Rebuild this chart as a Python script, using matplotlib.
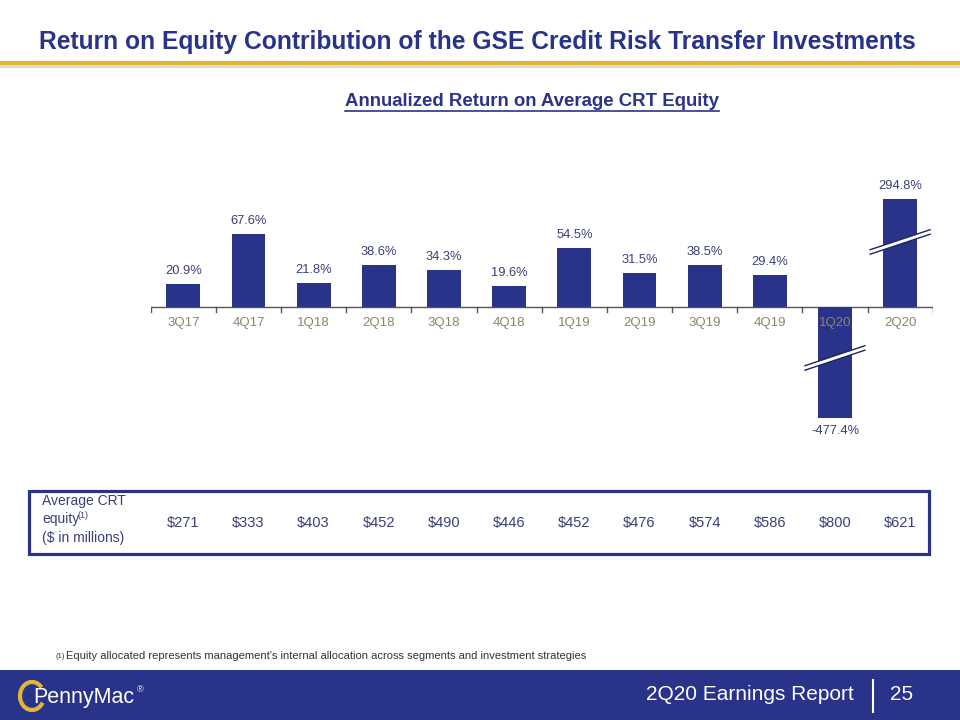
import numpy as np
import matplotlib
matplotlib.use("Agg")
import matplotlib.pyplot as plt
from matplotlib.patches import Rectangle, Polygon, Arc
from matplotlib import font_manager

quarters = ["3Q17", "4Q17", "1Q18", "2Q18", "3Q18", "4Q18", "1Q19", "2Q19", "3Q19", "4Q19", "1Q20", "2Q20"]
roe = [20.9, 67.6, 21.8, 38.6, 34.3, 19.6, 54.5, 31.5, 38.5, 29.4, -477.4, 294.8]
equity = [271, 333, 403, 452, 490, 446, 452, 476, 574, 586, 800, 621]

NAVY = "#29338a"
TXT = "#3b3f78"
TAN = "#8c8566"
GOLD = "#e0b634"

names = {f.name for f in font_manager.fontManager.ttflist}
narrow = "Liberation Sans Narrow" if "Liberation Sans Narrow" in names else "Liberation Sans"
plt.rcParams["font.family"] = ["Liberation Sans", "DejaVu Sans"]

W, H = 960, 720
fig = plt.figure(figsize=(9.6, 7.2), dpi=100)

def fx(x):
    return x / W

def fy(y):
    return 1 - y / H

# Title
fig.text(fx(477), fy(42), "Return on Equity Contribution of the GSE Credit Risk Transfer Investments",
         ha="center", va="center", fontsize=17.7, fontweight="bold", color=NAVY, family=narrow)
# gold rule with shadow
fig.add_artist(Rectangle((0, fy(68)), 1, 3 / H, transform=fig.transFigure, color="#d9d9d9", lw=0))
fig.add_artist(Rectangle((0, fy(65)), 1, 4 / H, transform=fig.transFigure, color=GOLD, lw=0))

# Subtitle underlined
st = fig.text(fx(532), fy(102), "Annualized Return on Average CRT Equity", ha="center", va="center",
              fontsize=13.4, fontweight="bold", color=NAVY, family=narrow)
fig.canvas.draw()
bb = st.get_window_extent()
fig.add_artist(plt.Line2D([bb.x0 / W, bb.x1 / W], [fy(111), fy(111)], transform=fig.transFigure,
                          color=NAVY, lw=1.2))

# Chart axes
k = 1.084  # px per percentage point
base_px = 307
top_px, bot_px = 150, 450
x0_px, x1_px = 150.7, 932.7
ax = fig.add_axes([fx(x0_px), fy(bot_px), (x1_px - x0_px) / W, (bot_px - top_px) / H])
ax.set_xlim(-0.5, len(quarters) - 0.5)
ax.set_ylim(-(bot_px - base_px) / k, (base_px - top_px) / k)
ax.axis("off")

vals = np.array(roe)
shown = np.clip(vals, -102, 100)  # broken-axis display of the two outliers
xs = np.arange(len(quarters))
ax.bar(xs, shown, width=0.52, color=NAVY, zorder=2)

# baseline & ticks
ax.plot([-0.5, len(quarters) - 0.5], [0, 0], color="#555555", lw=1, zorder=1)
for b in np.arange(-0.5, len(quarters), 1.0):
    ax.plot([b, b], [0, -5 / k], color="#555555", lw=1, zorder=1)

for x, q in zip(xs, quarters):
    ax.text(x, -16 / k, q, ha="center", va="center", fontsize=9.5, color=TAN, zorder=5)

for x, v, s in zip(xs, vals, shown):
    if v >= 0:
        ax.annotate(f"{v:.1f}%", (x, s), xytext=(0, 5), textcoords="offset points",
                    ha="center", va="bottom", fontsize=9.3, color=TXT)
    else:
        ax.annotate(f"{v:.1f}%", (x, s), xytext=(0, -5), textcoords="offset points",
                    ha="center", va="top", fontsize=9.3, color=TXT)

def brk(x, c):
    half = 0.46
    dy = 10 / k
    g = 4.5 / k
    xl, xr = x - half, x + half
    poly = Polygon([(xl, c - dy - g / 2), (xr, c + dy - g / 2), (xr, c + dy + g / 2), (xl, c - dy + g / 2)],
                   closed=True, facecolor="white", edgecolor="none", zorder=3, clip_on=False)
    ax.add_patch(poly)
    ax.plot([xl, xr], [c - dy - g / 2, c + dy - g / 2], color="#1e2560", lw=1, zorder=4)
    ax.plot([xl, xr], [c - dy + g / 2, c + dy + g / 2], color="#1e2560", lw=1, zorder=4)

for x, v in zip(xs, vals):
    if v > 100:
        brk(x, 60)
    elif v < -102:
        brk(x, -47)

# Table box
fig.add_artist(Rectangle((fx(29), fy(554)), (929 - 29) / W, (554 - 491) / H, transform=fig.transFigure,
                         facecolor="white", edgecolor=NAVY, lw=2.3))
fig.text(fx(42), fy(501), "Average CRT", ha="left", va="center", fontsize=10, color=TXT)
fig.text(fx(42), fy(519), "equity", ha="left", va="center", fontsize=10, color=TXT)
fig.text(fx(78), fy(515), "(1)", ha="left", va="center", fontsize=6.5, color=TXT)
fig.text(fx(42), fy(538), "($ in millions)", ha="left", va="center", fontsize=10, color=TXT)
slot = (x1_px - x0_px) / len(quarters)
for i, e in enumerate(equity):
    cx = x0_px + slot * (i + 0.5)
    fig.text(fx(cx), fy(523), f"${e}", ha="center", va="center", fontsize=10.5, color=TXT)

# footnote
fig.text(fx(55), fy(656), "(1)", ha="left", va="center", fontsize=5.5, color="#333333")
fig.text(fx(66), fy(656), "Equity allocated represents management's internal allocation across segments and investment strategies",
         ha="left", va="center", fontsize=8.0, color="#333333", family=narrow)

# Footer band
fig.add_artist(Rectangle((0, 0), 1, 50 / H, transform=fig.transFigure, color=NAVY, lw=0))
fig.text(fx(750), fy(694), "2Q20 Earnings Report", ha="center", va="center", fontsize=15, color="white")
fig.add_artist(plt.Line2D([fx(873), fx(873)], [fy(680), fy(712)], transform=fig.transFigure,
                          color="white", lw=1.5))
fig.text(fx(902), fy(694), "25", ha="center", va="center", fontsize=15, color="white")
# logo
fig.add_artist(Arc((fx(32), fy(696)), 24 / W, 28 / H, angle=0, theta1=50, theta2=320,
                   transform=fig.transFigure, color=GOLD, lw=3))
fig.text(fx(33), fy(698), "PennyMac", ha="left", va="center", fontsize=15.5, color="white", family=narrow)
fig.text(fx(137), fy(690), "®", ha="left", va="center", fontsize=6.5, color="white")

fig.savefig("out.png", dpi=100)
